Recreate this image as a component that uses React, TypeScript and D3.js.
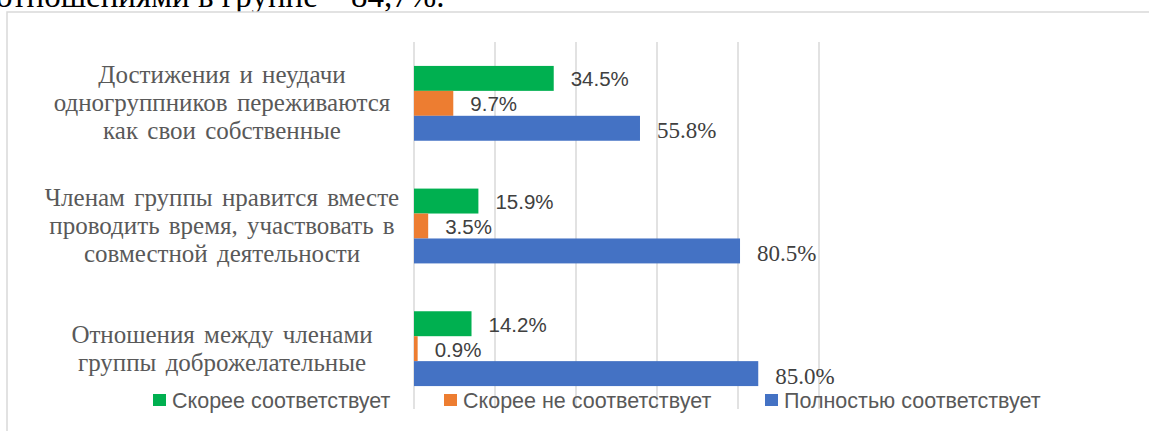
import React from "react";
import * as d3 from "d3";

const categories = [
  ["Достижения и неудачи", "одногруппников переживаются", "как свои собственные"],
  ["Членам группы нравится вместе", "проводить время, участвовать в", "совместной деятельности"],
  ["Отношения между членами", "группы доброжелательные"],
];
const seriesNames = ["Скорее соответствует", "Скорее не соответствует", "Полностью соответствует"];
const seriesColors = ["#00B050", "#ED7D31", "#4472C4"];
const likely = [34.5, 15.9, 14.2];
const likelyNot = [9.7, 3.5, 0.9];
const fully = [55.8, 80.5, 85.0];
const xTicks = [0, 20, 40, 60, 80, 100];
const pageText = "отношениями в группе – 84,7%.";

const W = 1149;
const H = 431;
const SERIF = "'Liberation Serif', 'Times New Roman', serif";
const SANS = "'Liberation Sans', Arial, sans-serif";

export default function App() {
  const series = [likely, likelyNot, fully];
  const x = d3.scaleLinear().domain([0, 100]).range([414, 819]);
  const y = d3
    .scaleBand<number>()
    .domain(d3.range(categories.length))
    .range([42, 410])
    .paddingInner(0.39)
    .paddingOuter(0.195);
  const ySub = d3.scaleBand<number>().domain(d3.range(series.length)).range([0, y.bandwidth()]);
  const fmt = (v: number) => v.toFixed(1) + "%";
  const legendX = [153, 444, 765];

  return (
    <svg
      width={W}
      height={H}
      style={{ position: "absolute", left: 0, top: 0, background: "#fff" }}
    >
      <text x={-4} y={7} fontFamily={SERIF} fontSize={33} fill="#000">
        {pageText}
      </text>
      <rect x={7} y={12} width={W + 20} height={H + 20} fill="#fff" stroke="#d9d9d9" strokeWidth={1.5} />
      {xTicks.map((t) => (
        <line key={t} x1={x(t)} x2={x(t)} y1={42} y2={409} stroke="#d9d9d9" strokeWidth={1.5} />
      ))}
      {categories.map((lines, ci) => {
        const cy = (y(ci) as number) + y.bandwidth() / 2;
        const lh = 28;
        const off = ((lines.length - 1) * lh) / 2;
        return (
          <text
            key={ci}
            textAnchor="middle"
            fontFamily={SERIF}
            fontSize={25}
            wordSpacing={3}
            fill="#595959"
          >
            {lines.map((ln, li) => (
              <tspan key={li} x={222} y={cy - off + li * lh + 8}>
                {ln}
              </tspan>
            ))}
          </text>
        );
      })}
      {series.map((vals, si) =>
        vals.map((v, ci) => {
          const by = (y(ci) as number) + (ySub(si) as number);
          const bh = ySub.bandwidth();
          return (
            <g key={si + "-" + ci}>
              <rect x={x(0)} y={by} width={x(v) - x(0)} height={bh} fill={seriesColors[si]} />
              <text
                x={x(v) + 17}
                y={by + bh / 2 + (si === 2 ? 10 : 8)}
                fontFamily={si === 2 ? SERIF : SANS}
                fontSize={si === 2 ? 23 : 20.5}
                fill="#404040"
              >
                {fmt(v)}
              </text>
            </g>
          );
        })
      )}
      {seriesNames.map((n, i) => (
        <g key={n}>
          <rect x={legendX[i]} y={394} width={13} height={12} fill={seriesColors[i]} />
          <text x={legendX[i] + 19} y={408} fontFamily={SANS} fontSize={21.5} fill="#595959">
            {n}
          </text>
        </g>
      ))}
    </svg>
  );
}
